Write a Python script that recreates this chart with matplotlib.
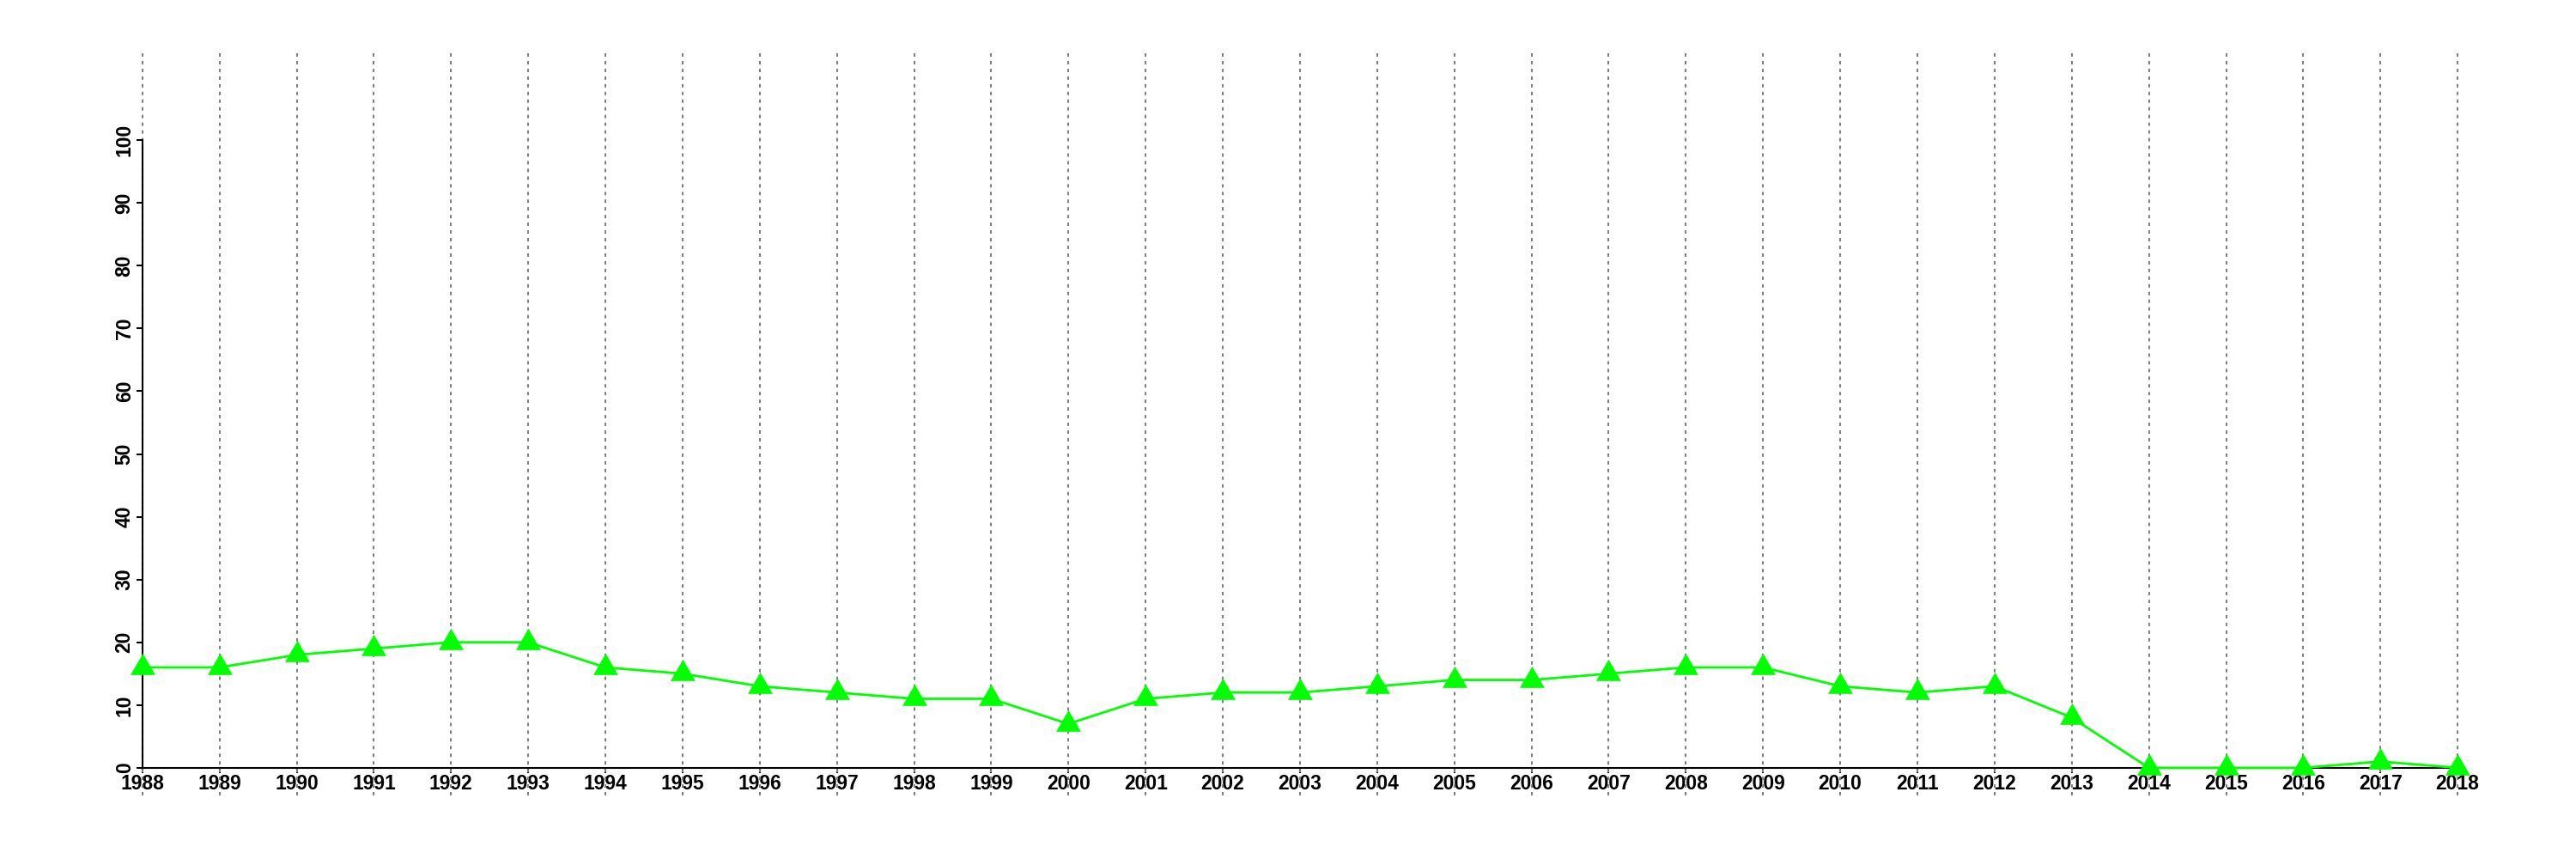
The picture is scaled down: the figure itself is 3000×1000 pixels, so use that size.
import numpy as np
import matplotlib
matplotlib.use("Agg")
import matplotlib.pyplot as plt

# valores
anos = list(range(1988, 2019))
valores = [16, 16, 18, 19, 20, 20, 16, 15, 13, 12, 11, 11, 7, 11, 12, 12,
           13, 14, 14, 15, 16, 16, 13, 12, 13, 8, 0, 0, 0, 1, 0]
y_ticks = list(range(0, 101, 10))

plt.rcParams['font.family'] = ['Liberation Sans', 'DejaVu Sans']

fig = plt.figure(figsize=(30, 10), dpi=100)
ax = fig.add_axes([0.0193, 0.074, 0.9707, 0.868])

# eixo com margem de 4% como no R
ax.set_xlim(anos[0] - 0.04 * (anos[-1] - anos[0]), anos[-1] + 0.04 * (anos[-1] - anos[0]))
ax.set_ylim(-0.04 * 110, 110 * 1.04)

# linhas verticais pontilhadas
ax.vlines(anos, -0.04 * 110, 110 * 1.04, colors="#808080", linewidth=1.5,
          linestyles=(0, (1.9, 2.4)), zorder=2.6, clip_on=False)

# triângulo equilátero (pch 17)
tri = [(0, 1), (-0.866, -0.5), (0.866, -0.5), (0, 1)]
ax.plot(anos, valores, color="#00FF00", linewidth=2, marker=tri, markersize=24,
        markeredgewidth=0, zorder=3, clip_on=False)

for s in ["top", "right"]:
    ax.spines[s].set_visible(False)
ax.spines["left"].set_position(("data", anos[0]))
ax.spines["bottom"].set_position(("data", 0))
ax.spines["left"].set_bounds(0, 100)
ax.spines["bottom"].set_bounds(anos[0], anos[-1])
for s in ["left", "bottom"]:
    ax.spines[s].set_linewidth(1.5)
    ax.spines[s].set_zorder(2.7)

ax.set_xticks(anos)
ax.set_xticklabels([str(a) for a in anos], fontsize=16.5, fontweight="bold")
ax.set_yticks(y_ticks)
ax.set_yticklabels([str(v) for v in y_ticks], fontsize=16.5, fontweight="bold",
                   rotation=90, va="center")
ax.tick_params(axis="x", length=4.5, width=1.5, pad=0.5)
ax.tick_params(axis="y", length=5, width=1.5, pad=1.5)

fig.savefig("out.png", dpi=100)
